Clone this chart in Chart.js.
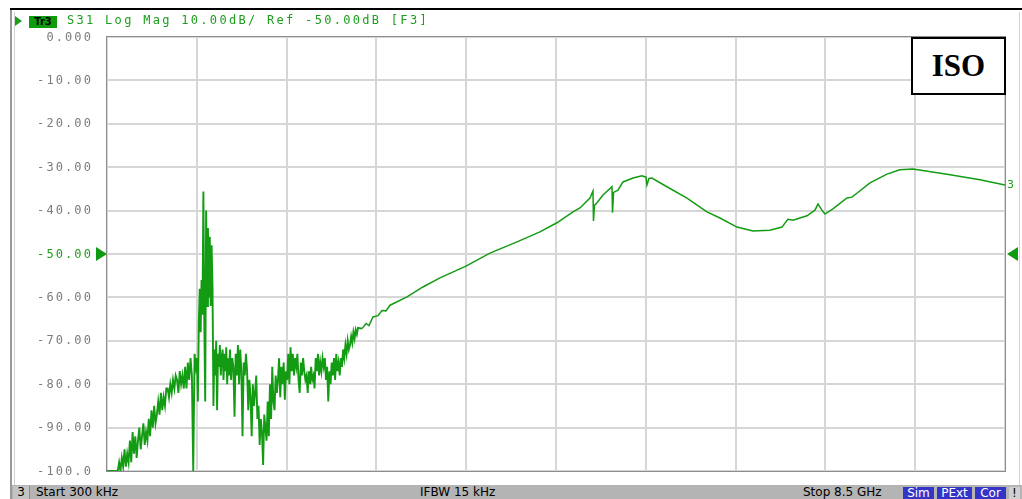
<!DOCTYPE html>
<html>
<head>
<meta charset="utf-8">
<script src="https://cdn.jsdelivr.net/npm/chart.js@4.4.1/dist/chart.umd.min.js"></script>
<style>
  html, body { margin: 0; padding: 0; background: #fff; }
  #wrap { position: relative; width: 1022px; height: 499px; overflow: hidden; background: #fff; }
  #chart { position: absolute; left: 0; top: 0; }
  .topline { position: absolute; left: 10px; top: 8px; width: 1012px; height: 2px; background: #000; }
  .leftline { position: absolute; left: 10px; top: 10px; width: 2px; height: 489px; background: #9a9a9a; }
  .leftline2 { position: absolute; left: 14px; top: 12px; width: 1px; height: 473px; background: #d0d0d0; }
  .rightline { position: absolute; left: 1019px; top: 12px; width: 1px; height: 473px; background: #d0d0d0; }
  .hdr { position: absolute; top: 13px; font: 12px "DejaVu Sans Mono"; letter-spacing: 2.3px; color: #1c9e1c; white-space: pre; }
  .tri { position: absolute; left: 15px; top: 16px; width: 0; height: 0; border-top: 5px solid transparent; border-bottom: 5px solid transparent; border-left: 7px solid #1c9e1c; }
  .trbox { position: absolute; left: 29px; top: 16px; width: 28px; height: 12px; background: #0c9c0c; color: #000; font: bold 10px "DejaVu Sans"; line-height: 12px; text-align: center; }
  .iso { position: absolute; left: 911px; top: 37px; width: 91px; height: 54px; border: 2px solid #000; background: #fff;
         font: bold 31px "Liberation Serif"; line-height: 54px; text-align: center; color: #000; }
  .bar { position: absolute; left: 12px; top: 485px; width: 1010px; height: 14px; background: #b4b4b4; }
  .bt { position: absolute; top: 485px; font: 12px "DejaVu Sans"; line-height: 14px; color: #000; white-space: pre; }
  .cell3 { position: absolute; left: 13px; top: 486px; width: 16px; height: 13px; background: #c4c4c4; border-right: 1px solid #8a8a8a;
           font: 12px "DejaVu Sans"; line-height: 13px; text-align: center; }
  .blue { position: absolute; top: 487px; height: 12px; background: #3434c8; color: #fff; font: 12px "DejaVu Sans"; line-height: 12px; text-align: center; }
  .excl { position: absolute; left: 1009px; top: 487px; width: 11px; height: 12px; background: #d0d0d0; color: #000; font: 12px "DejaVu Sans"; line-height: 12px; text-align: center; }
</style>
</head>
<body>
<div id="wrap">
  <canvas id="chart" width="1022" height="499"></canvas>
  <div class="topline"></div>
  <div class="leftline"></div>
  <div class="leftline2"></div>
  <div class="rightline"></div>
  <div class="tri"></div>
  <div class="trbox">Tr3</div>
  <div class="hdr" style="left:67px">S31 Log Mag 10.00dB/ Ref -50.00dB [F3]</div>
  <div class="iso">ISO</div>
  <div class="bar"></div>
  <div class="cell3">3</div>
  <div class="bt" style="left:36px">Start 300 kHz</div>
  <div class="bt" style="left:420px">IFBW 15 kHz</div>
  <div class="bt" style="left:803px">Stop 8.5 GHz</div>
  <div class="blue" style="left:903px;width:31px">Sim</div>
  <div class="blue" style="left:937px;width:35px">PExt</div>
  <div class="blue" style="left:975px;width:31px">Cor</div>
  <div class="excl">!</div>
</div>
<script>
// sweep 300 kHz .. 8.5 GHz, values in dB
const START_GHZ = 0.0003
const STOP_GHZ = 8.5
const REF_DB = -50

const yTickValues = [0, -10, -20, -30, -40, -50, -60, -70, -80, -90, -100]
const yTickLabels = ['0.000', '-10.00', '-20.00', '-30.00', '-40.00', '-50.00', '-60.00', '-70.00', '-80.00', '-90.00', '-100.0']

// noisy low-frequency part in three sweep stretches
const noiseA_GHz = [0.0003, 0.842]
const noiseA_dB = [
  -100, -100, -100, -100, -100, -100, -100, -100, -100,
  -98, -100, -97, -99,
  -95, -99, -96, -98,
  -93, -98, -91, -96, -92, -97,
  -93, -90, -95, -92, -89, -94, -91, -93,
  -88, -92, -86, -90, -85, -89, -87,
  -84, -87, -82, -86, -83, -85, -81,
  -81, -83, -80, -82, -79, -81, -78,
  -79, -82, -77, -80, -78, -81,
  -76, -81, -75, -79, -74, -78,
  -100, -73, -76
]
const spike_GHz = [0.852, 1.155]
const spike_dB = [
  -74, -84, -66, -58, -68, -56, -64, -35.6, -66, -84,
  -40, -62, -44, -60, -46, -62, -48, -58, -85, -72,
  -78, -70, -86, -73, -76, -71, -78, -74, -72, -79,
  -73, -77, -71.5, -80, -74, -78
]
const noiseB_GHz = [1.164, 2.376]
const noiseB_dB = [
  -72, -79, -74, -76, -87.5, -73, -78,
  -71, -80, -72, -77, -92, -75, -78, -73,
  -77, -86, -79, -83, -92, -80, -85, -82, -78, -88,
  -85, -94, -88, -91, -98.6, -87, -90, -93, -84, -92,
  -80, -88, -76, -84, -86, -78, -82, -79,
  -74, -83, -76, -80, -75, -83.6, -77, -79, -73, -80,
  -71.5, -77, -73, -78, -74, -76,
  -73, -79, -82, -75, -78, -74, -77, -79,
  -78, -82, -77, -80, -76, -79, -78, -81,
  -74, -77, -73, -78, -75, -77, -74, -76,
  -74, -79, -76, -84, -77, -80, -75, -78,
  -74, -79, -73, -77, -75, -78, -74, -76,
  -72, -74, -71, -73, -70, -72, -71,
  -69, -70.5, -68, -69.5, -67.5, -68.5, -67
]

// smoother upper part
const smoothGHz = [
  2.414, 2.452, 2.480, 2.518, 2.565, 2.603, 2.641, 2.679, 2.840, 2.991,
  3.152, 3.398, 3.625, 3.881, 4.098, 4.259, 4.411, 4.477, 4.572, 4.600,
  4.605, 4.614, 4.638, 4.695, 4.780, 4.785, 4.795, 4.837, 4.884, 4.979,
  5.064, 5.102, 5.111, 5.130, 5.158, 5.300, 5.490, 5.679, 5.802, 5.963,
  6.114, 6.275, 6.389, 6.426, 6.445, 6.493, 6.626, 6.701, 6.730, 6.767,
  6.796, 6.871, 7.004, 7.051, 7.098, 7.222, 7.383, 7.505, 7.629, 7.951,
  8.263, 8.500
]
const smoothDb = [
  -67.2, -66.0, -66.5, -64.5, -64.2, -63.0, -63.1, -61.8, -59.9, -57.6,
  -55.5, -52.8, -49.8, -47.2, -44.9, -42.8, -40.3, -39.4, -37.1, -35.5,
  -42.4, -38.8, -38.2, -36.4, -34.5, -40.5, -35.8, -35.3, -33.4, -32.5,
  -32.0, -32.3, -34.1, -32.6, -32.5, -34.5, -37.1, -40.3, -41.7, -43.8,
  -44.7, -44.5, -43.8, -42.6, -42.0, -42.2, -41.2, -39.9, -38.5, -39.9,
  -40.8, -39.6, -37.1, -36.9, -36.0, -33.6, -31.6, -30.6, -30.4, -31.6,
  -32.9, -34.1
]

const traceColor = '#139c13'
const markerColor = '#0f9a0f'
const gridColor = '#d6d6d6'

function sweep(range, values) {
  const step = (range[1] - range[0]) / (values.length - 1)
  return values.map((v, i) => ({ x: range[0] + i * step, y: v }))
}

const points = [
  ...sweep(noiseA_GHz, noiseA_dB),
  ...sweep(spike_GHz, spike_dB),
  ...sweep(noiseB_GHz, noiseB_dB),
  ...smoothGHz.map((f, i) => ({ x: f, y: smoothDb[i] }))
]

const decorPlugin = {
  id: 'decor',
  afterDraw(chart) {
    const { ctx, chartArea, scales } = chart
    const y = scales.y
    ctx.save()
    // frame
    ctx.strokeStyle = '#8c8c8c'
    ctx.lineWidth = 1
    ctx.strokeRect(chartArea.left - 0.5, chartArea.top - 0.5, chartArea.right - chartArea.left + 1, chartArea.bottom - chartArea.top + 1)
    // y labels
    ctx.font = '12px "DejaVu Sans Mono"'
    ctx.letterSpacing = '2.1px'
    ctx.textAlign = 'right'
    ctx.textBaseline = 'middle'
    yTickValues.forEach((v, i) => {
      ctx.fillStyle = v === REF_DB ? '#1c9e1c' : '#7c7c7c'
      ctx.fillText(yTickLabels[i], 93, y.getPixelForValue(v) + 0.5)
    })
    ctx.letterSpacing = '0px'
    // reference markers
    const ry = y.getPixelForValue(REF_DB)
    ctx.fillStyle = markerColor
    ctx.beginPath()
    ctx.moveTo(chartArea.left, ry)
    ctx.lineTo(chartArea.left - 11, ry - 7)
    ctx.lineTo(chartArea.left - 11, ry + 7)
    ctx.closePath()
    ctx.fill()
    ctx.beginPath()
    ctx.moveTo(chartArea.right + 2, ry)
    ctx.lineTo(chartArea.right + 13, ry - 7)
    ctx.lineTo(chartArea.right + 13, ry + 7)
    ctx.closePath()
    ctx.fill()
    // trace number at the end of the trace
    const last = smoothDb[smoothDb.length - 1]
    ctx.fillStyle = '#1c9e1c'
    ctx.font = '11px "DejaVu Sans"'
    ctx.textAlign = 'left'
    ctx.fillText('3', chartArea.right + 2, y.getPixelForValue(last))
    ctx.restore()
  }
}

const ctx = document.getElementById('chart').getContext('2d')
new Chart(ctx, {
  type: 'line',
  data: {
    datasets: [{
      data: points,
      borderColor: traceColor,
      borderWidth: 1.6,
      pointRadius: 0,
      tension: 0,
      fill: false,
      segment: {
        borderWidth: c => (c.p0.parsed.x < 2.4 ? 1.9 : 1.5)
      }
    }]
  },
  options: {
    responsive: false,
    animation: false,
    events: [],
    layout: { padding: { left: 107, right: 17, top: 37, bottom: 28 } },
    plugins: { legend: { display: false }, tooltip: { enabled: false } },
    scales: {
      x: {
        type: 'linear',
        min: START_GHZ,
        max: STOP_GHZ,
        afterBuildTicks: s => {
          const ticks = []
          for (let k = 0; k <= 10; k++) ticks.push({ value: START_GHZ + k * (STOP_GHZ - START_GHZ) / 10 })
          s.ticks = ticks
        },
        afterFit: s => { s.height = 0 },
        ticks: { display: false },
        grid: { color: gridColor, lineWidth: 2, drawTicks: false },
        border: { display: false }
      },
      y: {
        min: -100,
        max: 0,
        afterFit: s => { s.width = 0 },
        ticks: { display: false, stepSize: 10 },
        grid: { color: gridColor, lineWidth: 2, drawTicks: false },
        border: { display: false }
      }
    }
  },
  plugins: [decorPlugin]
})
</script>
</body>
</html>
